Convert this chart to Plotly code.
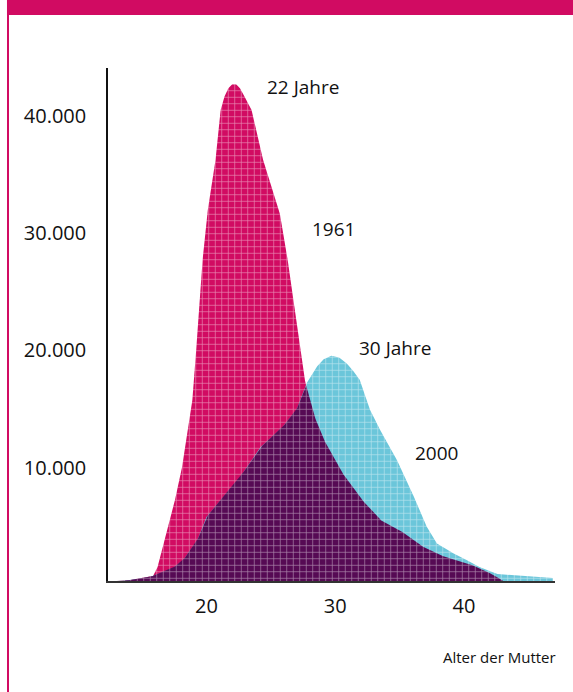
import numpy as np
import plotly.graph_objects as go

# ---- data ----
age_1961 = [13.6, 15.6, 15.85, 16.2, 16.9, 17.55, 18.1, 18.5, 18.9, 19.2, 19.7, 20.1, 20.7, 21.1,
            21.4, 21.7, 22.0, 22.3, 22.6, 22.95, 23.5, 24.4, 25.7, 26.3, 26.6, 27.0, 27.65, 28.3,
            29.0, 30.4, 31.9, 33.5, 35.0, 36.6, 38.1, 40.2, 41.2, 42.6, 43.0]
births_1961 = [0, 340, 430, 1200, 4100, 6900, 9700, 12600, 15400, 19700, 27400, 31600, 35900, 40150,
               41300, 42000, 42350, 42350, 42000, 41300, 40150, 35900, 31300, 27400, 25100, 22250, 17100, 14300,
               12300, 9450, 7150, 5200, 4350, 3050, 2200, 1550, 1100, 350, 0]

age_2000 = [13.5, 14.8, 15.6, 16.4, 17.4, 18.2, 19.3, 20.0, 21.3, 22.6, 24.2, 25.9, 27.0, 27.8,
            28.6, 29.1, 29.7, 30.3, 30.9, 31.4, 31.9, 32.7, 33.5, 34.8, 36.1, 37.1, 37.9, 39.2,
            40.2, 41.2, 42.6, 43.8, 45.4, 46.9]
births_2000 = [0, 250, 340, 680, 1100, 1800, 3500, 5450, 7150, 8850, 11400, 13100, 14600, 16900,
               18300, 18900, 19200, 19050, 18550, 17900, 17150, 14600, 12850, 10300, 7200, 4650, 3200, 2350,
               1800, 1200, 600, 500, 430, 250]

x_tickvals = [20, 30, 40]
y_tickvals = [10000, 20000, 30000, 40000]
y_ticktext = ["10.000", "20.000", "30.000", "40.000"]

labels = [
    ("22 Jahre", 24.54, 42100),
    ("1961", 28.04, 30000),
    ("30 Jahre", 31.69, 19860),
    ("2000", 36.04, 10900),
]

MAGENTA = "#d10b62"
CYAN = "#6bc6da"
DARK = "#560a54"
FONT = "Open Sans"

# overlap (where both distributions cover the same area)
grid = np.round(np.arange(13.0, 47.5, 0.05), 3)
v61 = np.interp(grid, age_1961, births_1961, left=0, right=0)
v00 = np.interp(grid, age_2000, births_2000, left=0, right=0)
overlap = np.minimum(v61, v00)


def pattern(bg):
    return dict(shape="+", bgcolor=bg, fgcolor="white", fgopacity=0.5, size=6.5, solidity=0.2,
                fillmode="replace")


fig = go.Figure()
fig.add_trace(go.Scatter(x=age_1961, y=births_1961, mode="lines", fill="tozeroy",
                         line=dict(width=0, color=MAGENTA), fillcolor=MAGENTA,
                         fillpattern=pattern(MAGENTA), hoverinfo="skip", showlegend=False))
fig.add_trace(go.Scatter(x=age_2000, y=births_2000, mode="lines", fill="tozeroy",
                         line=dict(width=0, color=CYAN), fillcolor=CYAN,
                         fillpattern=pattern(CYAN), hoverinfo="skip", showlegend=False))
fig.add_trace(go.Scatter(x=grid, y=overlap, mode="lines", fill="tozeroy",
                         line=dict(width=0, color=DARK), fillcolor=DARK,
                         fillpattern=pattern(DARK), hoverinfo="skip", showlegend=False))

for text, x, y in labels:
    fig.add_annotation(x=x, y=y, text=text, showarrow=False, xanchor="left", yanchor="middle",
                       font=dict(family=FONT, size=19, color="#111111"))

fig.add_annotation(xref="paper", yref="paper", x=1.0067, y=-0.149, text="Alter der Mutter",
                   showarrow=False, xanchor="right", yanchor="middle",
                   font=dict(family=FONT, size=15, color="#111111"))

# decorative frame: top bar and left rule
fig.add_shape(type="rect", xref="paper", yref="paper", x0=-0.226, x1=1.05, y0=1.1033, y1=1.14,
              fillcolor=MAGENTA, line=dict(width=0), layer="above")
fig.add_shape(type="line", xref="paper", yref="paper", x0=-0.2237, x1=-0.2237, y0=-0.25, y1=1.1033,
              line=dict(color=MAGENTA, width=2), layer="above")

fig.update_layout(
    width=573, height=692,
    margin=dict(l=108, r=18, t=68, b=111),
    paper_bgcolor="white", plot_bgcolor="white",
    font=dict(family=FONT, size=20, color="#111111"),
    showlegend=False,
    xaxis=dict(range=[12.35, 47.07], tickvals=x_tickvals, showgrid=False, zeroline=False,
               showline=True, linecolor="#333333", linewidth=2, ticks="",
               ticklabelstandoff=6, tickfont=dict(size=20)),
    yaxis=dict(range=[0, 43733], tickvals=y_tickvals, ticktext=y_ticktext, showgrid=False,
               zeroline=False, showline=True, linecolor="#111111", linewidth=1.5, ticks="",
               ticklabelstandoff=16, ticklabelshift=4, tickfont=dict(size=20)),
)

fig.write_html("out.html", config={"displayModeBar": False},
               post_script="document.body.style.margin='0';document.body.style.overflow='hidden';")
